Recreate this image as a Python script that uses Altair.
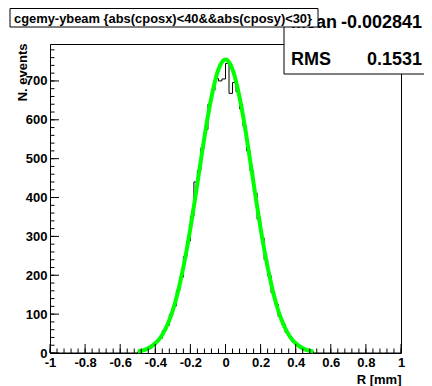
import altair as alt
import pandas as pd

# ---- data ----
# histogram: 100 bins of width 0.02 from -1 to 1 (only the central 50 are non-empty)
center_counts = [3, 6, 11, 13, 22, 30, 38, 57, 71, 99, 121, 161, 195, 248, 288, 352, 440, 470,
                 528, 575, 640, 676, 706, 700, 705, 745, 668, 696, 672, 628, 583, 520, 468, 412,
                 344, 296, 240, 199, 155, 126, 94, 74, 53, 41, 28, 20, 15, 9, 7, 4]
counts = [0] * 25 + center_counts + [0] * 25
edges = [round(-1 + 0.02 * i, 2) for i in range(101)]

# gaussian fit curve
fit_x = [round(-0.5 + 0.025 * i, 3) for i in range(41)]
fit_y = [4, 6, 10, 16, 25, 37, 55, 79, 110, 150, 199, 256, 321, 392, 467, 541, 610, 669, 716, 745,
         755, 745, 716, 669, 610, 541, 467, 392, 321, 256, 199, 150, 110, 79, 55, 37, 25, 16, 10, 6, 4]

x_major = [-1, -0.8, -0.6, -0.4, -0.2, 0, 0.2, 0.4, 0.6, 0.8, 1]
x_minor = [round(-1 + 0.04 * i, 2) for i in range(51)]
y_major = [0, 100, 200, 300, 400, 500, 600, 700]
y_minor = list(range(0, 795, 20))

title_text = "cgemy-ybeam {abs(cposx)<40&&abs(cposy)<30}"
stat_names = ["Mean", "RMS"]
stat_values = ["-0.002841", "0.1531"]

W, H = 351, 309
FONT = "Liberation Sans"

hist = pd.DataFrame({"x": edges, "y": counts + [0]})
fit = pd.DataFrame({"x": fit_x, "y": fit_y})

xs = alt.Scale(domain=[-1, 1], nice=False, zero=False)
ys = alt.Scale(domain=[0, 795], nice=False)

x_axis = alt.Axis(values=x_major, labelExpr="'' + datum.value", ticks=False, domain=False, grid=False,
                  labelFont=FONT, labelFontWeight="bold", labelFontSize=13, labelColor="black",
                  labelPadding=3, labelFlush=False, labelOverlap=False,
                  title="R [mm]", titleX=W, titleY=30, titleAlign="right", titleBaseline="alphabetic",
                  titleFont=FONT, titleFontSize=13, titleFontWeight="bold", titleColor="black")
y_axis = alt.Axis(values=y_major, ticks=False, domain=False, grid=False,
                  labelFont=FONT, labelFontWeight="bold", labelFontSize=13, labelColor="black",
                  labelPadding=3, labelFlush=False, labelOverlap=False,
                  title="N. events", titleX=-28, titleY=-1, titleAngle=-90, titleAlign="right",
                  titleBaseline="middle", titleFont=FONT, titleFontSize=13, titleFontWeight="bold",
                  titleColor="black")

X = alt.X("x:Q", scale=xs, axis=x_axis, title="R [mm]")
Y = alt.Y("y:Q", scale=ys, axis=y_axis, title="N. events")

hist_line = alt.Chart(hist).mark_line(interpolate="step-after", color="black", strokeWidth=1).encode(
    x=X, y=Y)

fit_line = alt.Chart(fit).mark_line(interpolate="monotone", color="#00ff00", strokeWidth=4).encode(
    x=X, y=Y)

xmaj = alt.Chart(pd.DataFrame({"x": x_major})).mark_rule(color="black", strokeWidth=1).encode(
    x=X, y=alt.value(H), y2=alt.value(H - 9))
xmin = alt.Chart(pd.DataFrame({"x": x_minor})).mark_rule(color="black", strokeWidth=1).encode(
    x=X, y=alt.value(H), y2=alt.value(H - 4.5))
ymaj = alt.Chart(pd.DataFrame({"y": y_major})).mark_rule(color="black", strokeWidth=1).encode(
    y=Y, x=alt.value(0), x2=alt.value(9))
ymin = alt.Chart(pd.DataFrame({"y": y_minor})).mark_rule(color="black", strokeWidth=1).encode(
    y=Y, x=alt.value(0), x2=alt.value(4.5))

one = pd.DataFrame({"k": [0]})
stats_box = alt.Chart(one).mark_rect(fill="white", stroke="black", strokeWidth=1).encode(
    x=alt.value(234), x2=alt.value(420), y=alt.value(-60), y2=alt.value(30))
stats_text = [
    alt.Chart(one).mark_text(align="left", baseline="alphabetic", font=FONT, fontSize=18,
                             fontWeight="bold", color="black").encode(
        x=alt.value(241), y=alt.value(-16), text=alt.value(stat_names[0])),
    alt.Chart(one).mark_text(align="right", baseline="alphabetic", font=FONT, fontSize=18,
                             fontWeight="bold", color="black").encode(
        x=alt.value(372), y=alt.value(-16), text=alt.value(stat_values[0])),
    alt.Chart(one).mark_text(align="left", baseline="alphabetic", font=FONT, fontSize=18,
                             fontWeight="bold", color="black").encode(
        x=alt.value(241), y=alt.value(21), text=alt.value(stat_names[1])),
    alt.Chart(one).mark_text(align="right", baseline="alphabetic", font=FONT, fontSize=18,
                             fontWeight="bold", color="black").encode(
        x=alt.value(372), y=alt.value(21), text=alt.value(stat_values[1])),
]
title_box = alt.Chart(one).mark_rect(fill="white", stroke="black", strokeWidth=1).encode(
    x=alt.value(-40), x2=alt.value(268), y=alt.value(-35.5), y2=alt.value(-17))
title_mark = alt.Chart(one).mark_text(align="left", baseline="alphabetic", font=FONT, fontSize=12.9,
                                      fontWeight="bold", color="black").encode(
    x=alt.value(-36), y=alt.value(-21.5), text=alt.value(title_text))

chart = alt.layer(
    hist_line, fit_line, xmaj, xmin, ymaj, ymin, stats_box, *stats_text, title_box, title_mark
).properties(
    width=W, height=H,
    autosize=alt.AutoSizeParams(type="none"),
    padding={"left": 42, "top": 36, "right": 23, "bottom": 33},
).configure(background="white", view=alt.ViewConfig(stroke="black", strokeWidth=1))

chart.save("out.html", embed_options={"renderer": "svg", "actions": False})
